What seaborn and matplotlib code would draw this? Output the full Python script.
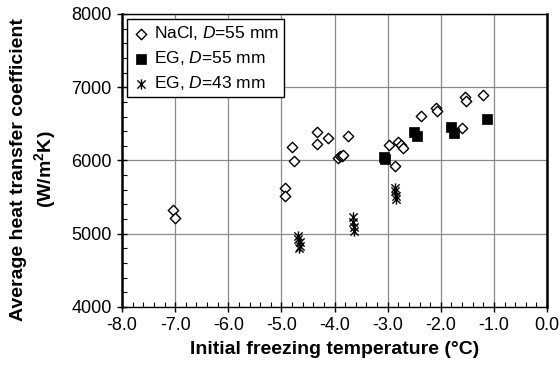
import numpy as np
import pandas as pd
import matplotlib
matplotlib.use("Agg")
import matplotlib.pyplot as plt
from matplotlib.path import Path
from matplotlib.ticker import MultipleLocator, FormatStrFormatter
import seaborn as sns

# ---- data ----
nacl_x = [-7.05, -7.00, -4.93, -4.93, -4.80, -4.77, -4.33, -4.33, -4.13, -3.75,
          -3.93, -3.90, -3.87, -3.85, -2.97, -2.86, -2.80, -2.75, -2.72, -2.37,
          -2.10, -2.08, -1.60, -1.54, -1.52, -1.20]
nacl_y = [5330, 5210, 5630, 5520, 6190, 5995, 6386, 6231, 6304, 6330,
          6040, 6055, 6065, 6075, 6215, 5930, 6250, 6210, 6175, 6610,
          6720, 6680, 6445, 6860, 6810, 6895]

eg55_x = [-3.07, -3.05, -2.50, -2.45, -1.80, -1.75, -1.14]
eg55_y = [6045, 6025, 6395, 6330, 6460, 6370, 6565]

eg43_x = [-4.68, -4.68, -4.65, -4.65, -4.67, -3.65, -3.65, -3.63, -3.63,
          -2.87, -2.87, -2.85, -2.85]
eg43_y = [4970, 4930, 4880, 4830, 4800, 5230, 5160, 5090, 5040,
          5630, 5580, 5520, 5470]

labels = ["NaCl, $\\mathit{D}$=55 mm", "EG, $\\mathit{D}$=55 mm", "EG, $\\mathit{D}$=43 mm"]
x_ticks = [-8.0, -7.0, -6.0, -5.0, -4.0, -3.0, -2.0, -1.0, 0.0]
y_ticks = [4000, 5000, 6000, 7000, 8000]

sns.set_theme(style="white")
plt.rcParams['font.family'] = ['Liberation Sans', 'DejaVu Sans']
plt.rcParams['mathtext.fontset'] = 'custom'
plt.rcParams['mathtext.rm'] = 'Liberation Sans'
plt.rcParams['mathtext.it'] = 'Liberation Sans:italic'
plt.rcParams['mathtext.bf'] = 'Liberation Sans:bold'
plt.rcParams['text.color'] = 'black'
plt.rcParams['axes.labelcolor'] = 'black'
plt.rcParams['xtick.color'] = 'black'
plt.rcParams['ytick.color'] = 'black'

fig = plt.figure(figsize=(5.6, 3.78), dpi=100)
ax = fig.add_axes([0.218, 0.188, 0.759, 0.775])

# Excel-style star marker: vertical line + X
star = Path([(0, -1), (0, 1), (-0.8, -0.8), (0.8, 0.8), (-0.8, 0.8), (0.8, -0.8)],
            [Path.MOVETO, Path.LINETO, Path.MOVETO, Path.LINETO, Path.MOVETO, Path.LINETO])

sns.scatterplot(x=nacl_x, y=nacl_y, ax=ax, marker='D', s=28,
                facecolor='white', edgecolor='black', linewidth=1.0,
                label=labels[0], zorder=3)
sns.scatterplot(x=eg55_x, y=eg55_y, ax=ax, marker='s', s=55,
                color='black', edgecolor='black', linewidth=0.5,
                label=labels[1], zorder=3)
sns.scatterplot(x=eg43_x, y=eg43_y, ax=ax, marker=star, s=55,
                color='black', edgecolor='black', linewidth=1.0,
                label=labels[2], zorder=3)

ax.set_xlim(-8, 0)
ax.set_ylim(4000, 8000)
ax.set_xticks(x_ticks)
ax.set_yticks(y_ticks)
ax.xaxis.set_major_formatter(FormatStrFormatter('%.1f'))
ax.xaxis.set_minor_locator(MultipleLocator(0.2))
ax.yaxis.set_minor_locator(MultipleLocator(200))
ax.grid(True, which='major', color='#8a8a8a', linewidth=0.9)
ax.set_axisbelow(True)

ax.tick_params(axis='both', which='major', direction='inout', length=7, width=1,
               labelsize=13, colors='black', pad=4)
ax.tick_params(axis='both', which='minor', direction='in', length=3.5, width=0.8,
               colors='black')
ax.tick_params(axis='x', which='both', bottom=True)
ax.tick_params(axis='y', which='both', left=True)

for side, sp in ax.spines.items():
    sp.set_visible(True)
    sp.set_color('black')
    sp.set_linewidth(1.0)
ax.spines['left'].set_linewidth(1.8)
ax.spines['right'].set_linewidth(1.8)

ax.set_xlabel('Initial freezing temperature (°C)', fontsize=14, fontweight='bold',
              labelpad=5, color='black')
ax.set_ylabel('Average heat transfer coefficient\n(W/m$^\\mathbf{2}$K)', fontsize=14,
              fontweight='bold', linespacing=1.3, color='black')
ax.yaxis.set_label_coords(-0.15, 0.47)

leg = ax.legend(loc='upper left', bbox_to_anchor=(0.0, 1.0), fontsize=12.5, frameon=True,
                fancybox=False, framealpha=1, edgecolor='black', borderpad=0.3,
                labelspacing=0.4, handletextpad=0.25, handlelength=1.0,
                borderaxespad=0.3)
leg.get_frame().set_linewidth(1.0)
for t in leg.get_texts():
    t.set_color('black')

fig.savefig('out.png', dpi=100)
